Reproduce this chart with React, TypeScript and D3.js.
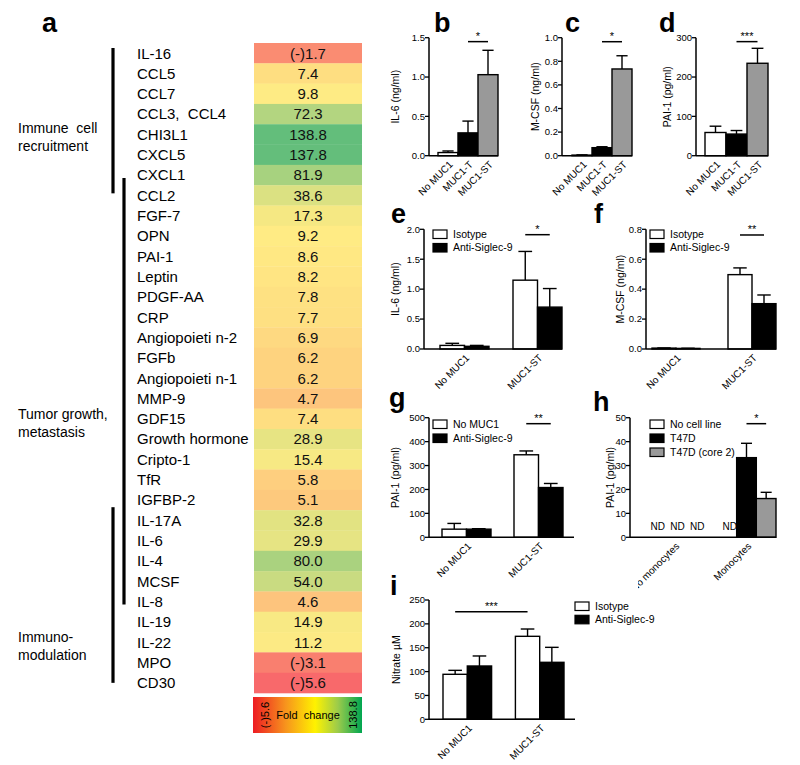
import React from 'react';
import * as d3 from 'd3';

const FONT = '"Liberation Sans", Arial, Helvetica, sans-serif';

// ---------- Panel a data ----------
const genes = ['IL-16', 'CCL5', 'CCL7', 'CCL3,  CCL4', 'CHI3L1', 'CXCL5', 'CXCL1', 'CCL2', 'FGF-7', 'OPN', 'PAI-1', 'Leptin', 'PDGF-AA', 'CRP', 'Angiopoieti n-2', 'FGFb', 'Angiopoieti n-1', 'MMP-9', 'GDF15', 'Growth hormone', 'Cripto-1', 'TfR', 'IGFBP-2', 'IL-17A', 'IL-6', 'IL-4', 'MCSF', 'IL-8', 'IL-19', 'IL-22', 'MPO', 'CD30'];
const foldChange = [-1.7, 7.4, 9.8, 72.3, 138.8, 137.8, 81.9, 38.6, 17.3, 9.2, 8.6, 8.2, 7.8, 7.7, 6.9, 6.2, 6.2, 4.7, 7.4, 28.9, 15.4, 5.8, 5.1, 32.8, 29.9, 80.0, 54.0, 4.6, 14.9, 11.2, -3.1, -5.6];
const groupLabels = [['Immune  cell', 'recruitment'], ['Tumor growth,', 'metastasis'], ['Immuno-', 'modulation']];
const groupBrackets = [[0, 7], [6, 27], [23, 31]];
const colorbarMin = '(-)5.6';
const colorbarMax = '138.8';

// ---------- Panels b-d ----------
const catsBCD = ['No MUC1', 'MUC1-T', 'MUC1-ST'];
const il6B = [0.04, 0.29, 1.03];
const il6BSem = [0.02, 0.15, 0.31];
const mcsfC = [0.005, 0.068, 0.735];
const mcsfCSem = [0.002, 0.008, 0.112];
const pai1D = [59, 55, 235];
const pai1DSem = [16, 9, 38];

// ---------- Panels e-g, i ----------
const catsEFGI = ['No MUC1', 'MUC1-ST'];
const il6EIso = [0.06, 1.15];
const il6EIsoSem = [0.035, 0.48];
const il6EAnti = [0.045, 0.70];
const il6EAntiSem = [0.015, 0.31];
const mcsfFIso = [0.006, 0.497];
const mcsfFIsoSem = [0.001, 0.045];
const mcsfFAnti = [0.004, 0.303];
const mcsfFAntiSem = [0.001, 0.058];
const pai1GNo = [34, 345];
const pai1GNoSem = [24, 16];
const pai1GAnti = [34, 208];
const pai1GAntiSem = [2, 17];
const nitrateIIso = [94.3, 173.9];
const nitrateIIsoSem = [8.3, 15.3];
const nitrateIAnti = [111.7, 119.4];
const nitrateIAntiSem = [21, 31.4];

// ---------- Panel h ----------
const catsH = ['No monocytes', 'Monocytes'];
const pai1HNone: (number | null)[] = [null, null];
const pai1HT47D: (number | null)[] = [null, 33.3];
const pai1HT47DSem: (number | null)[] = [null, 6];
const pai1HCore2: (number | null)[] = [null, 16.2];
const pai1HCore2Sem: (number | null)[] = [null, 2.6];

const WHITE = '#ffffff';
const BLACK = '#000000';
const GREY = '#999999';

type Series = { name: string; fill: string | string[]; values: (number | null)[]; errs: (number | null)[] };

type Cfg = {
  letter: string; lx: number; ly: number;
  axisX: number; y0: number; yTop: number; max: number; step: number; fmt: string;
  range: [number, number]; padInner: number; axisEnd: number;
  categories: string[]; series: Series[];
  yLabel: string; yLabelX: number;
  sig: { a: [number, number]; b: [number, number]; v: number; label: string };
  legend?: { x: number; y: number; pitch: number };
  clipLabelX?: number;
};

const panels: Cfg[] = [
  {
    letter: 'b', lx: 434, ly: 32, axisX: 429, y0: 155.7, yTop: 37.7, max: 1.5, step: 0.5, fmt: '.1f',
    range: [438, 498], padInner: 0, axisEnd: 498, categories: catsBCD,
    series: [{ name: 'IL-6', fill: [WHITE, BLACK, GREY], values: il6B, errs: il6BSem }],
    yLabel: 'IL-6 (ng/ml)', yLabelX: 395, sig: { a: [1, 0], b: [2, 0], v: 1.45, label: '*' },
  },
  {
    letter: 'c', lx: 565, ly: 32, axisX: 562, y0: 155.7, yTop: 37.7, max: 1.0, step: 0.2, fmt: '.1f',
    range: [572, 632], padInner: 0, axisEnd: 632, categories: catsBCD,
    series: [{ name: 'M-CSF', fill: [WHITE, BLACK, GREY], values: mcsfC, errs: mcsfCSem }],
    yLabel: 'M-CSF (ng/ml)', yLabelX: 535, sig: { a: [1, 0], b: [2, 0], v: 0.966, label: '*' },
  },
  {
    letter: 'd', lx: 659, ly: 32, axisX: 696, y0: 155.7, yTop: 37.7, max: 300, step: 100, fmt: 'd',
    range: [705, 768], padInner: 0, axisEnd: 768, categories: catsBCD,
    series: [{ name: 'PAI-1', fill: [WHITE, BLACK, GREY], values: pai1D, errs: pai1DSem }],
    yLabel: 'PAI-1 (pg/ml)', yLabelX: 667, sig: { a: [1, 0], b: [2, 0], v: 290, label: '***' },
  },
  {
    letter: 'e', lx: 391, ly: 223, axisX: 424, y0: 349, yTop: 229.3, max: 2.0, step: 0.5, fmt: '.1f',
    range: [440, 562], padInner: 24 / 73, axisEnd: 562, categories: catsEFGI,
    series: [
      { name: 'Isotype', fill: WHITE, values: il6EIso, errs: il6EIsoSem },
      { name: 'Anti-Siglec-9', fill: BLACK, values: il6EAnti, errs: il6EAntiSem },
    ],
    yLabel: 'IL-6 (ng/ml)', yLabelX: 395, sig: { a: [1, 0], b: [1, 1], v: 1.91, label: '*' },
    legend: { x: 433, y: 234, pitch: 13.5 },
  },
  {
    letter: 'f', lx: 594, ly: 223, axisX: 646, y0: 349, yTop: 229.3, max: 0.8, step: 0.2, fmt: '.1f',
    range: [652, 776], padInner: 28 / 76, axisEnd: 776, categories: catsEFGI,
    series: [
      { name: 'Isotype', fill: WHITE, values: mcsfFIso, errs: mcsfFIsoSem },
      { name: 'Anti-Siglec-9', fill: BLACK, values: mcsfFAnti, errs: mcsfFAntiSem },
    ],
    yLabel: 'M-CSF (ng/ml)', yLabelX: 620, sig: { a: [1, 0], b: [1, 1], v: 0.762, label: '**' },
    legend: { x: 650, y: 234, pitch: 13.5 },
  },
  {
    letter: 'g', lx: 389, ly: 407, axisX: 429, y0: 537.3, yTop: 417.7, max: 500, step: 100, fmt: 'd',
    range: [442, 563], padInner: 23 / 72, axisEnd: 574, categories: catsEFGI,
    series: [
      { name: 'No MUC1', fill: WHITE, values: pai1GNo, errs: pai1GNoSem },
      { name: 'Anti-Siglec-9', fill: BLACK, values: pai1GAnti, errs: pai1GAntiSem },
    ],
    yLabel: 'PAI-1 (pg/ml)', yLabelX: 395, sig: { a: [1, 0], b: [1, 1], v: 475, label: '**' },
    legend: { x: 433, y: 424, pitch: 14 },
  },
  {
    letter: 'h', lx: 593, ly: 411, axisX: 630, y0: 537.3, yTop: 417.7, max: 50, step: 10, fmt: 'd',
    range: [645, 776], padInner: 0.18, axisEnd: 776, categories: catsH,
    series: [
      { name: 'No cell line', fill: WHITE, values: pai1HNone, errs: pai1HNone },
      { name: 'T47D', fill: BLACK, values: pai1HT47D, errs: pai1HT47DSem },
      { name: 'T47D (core 2)', fill: GREY, values: pai1HCore2, errs: pai1HCore2Sem },
    ],
    yLabel: 'PAI-1 (pg/ml)', yLabelX: 610, sig: { a: [1, 1], b: [1, 2], v: 47.5, label: '*' },
    legend: { x: 650, y: 424, pitch: 14 },
    clipLabelX: 638,
  },
  {
    letter: 'i', lx: 390, ly: 595, axisX: 429, y0: 719.3, yTop: 600, max: 250, step: 50, fmt: 'd',
    range: [443, 564], padInner: 24 / 73, axisEnd: 575, categories: catsEFGI,
    series: [
      { name: 'Isotype', fill: WHITE, values: nitrateIIso, errs: nitrateIIsoSem },
      { name: 'Anti-Siglec-9', fill: BLACK, values: nitrateIAnti, errs: nitrateIAntiSem },
    ],
    yLabel: 'Nitrate \u00b5M', yLabelX: 396, sig: { a: [0, 0], b: [1, 0], v: 225.5, label: '***' },
    legend: { x: 575, y: 606, pitch: 13.3 },
  },
];

function fillOf(s: Series, ci: number) {
  return Array.isArray(s.fill) ? s.fill[ci] : s.fill;
}

function BarPanel({ cfg, idx }: { cfg: Cfg; idx: number }) {
  const y = d3.scaleLinear().domain([0, cfg.max]).range([cfg.y0, cfg.yTop]);
  const x0 = d3.scaleBand<string>().domain(cfg.categories).range(cfg.range).paddingInner(cfg.padInner).paddingOuter(0);
  const x1 = d3.scaleBand<string>().domain(cfg.series.map(s => s.name)).range([0, x0.bandwidth()]).padding(0);
  const ticks = d3.range(0, cfg.max + cfg.step / 2, cfg.step);
  const fmt = d3.format(cfg.fmt);
  const bw = x1.bandwidth();
  const cx = (ci: number, si: number) => (x0(cfg.categories[ci]) as number) + (x1(cfg.series[si].name) as number) + bw / 2;
  const sigY = y(cfg.sig.v);
  const sa = cx(cfg.sig.a[0], cfg.sig.a[1]);
  const sb = cx(cfg.sig.b[0], cfg.sig.b[1]);
  const yMid = (cfg.y0 + cfg.yTop) / 2;
  const clipId = `clip-${idx}`;
  return (
    <g fontFamily={FONT}>
      <text x={cfg.lx} y={cfg.ly} fontSize={27} fontWeight="bold">{cfg.letter}</text>
      {cfg.categories.map((c, ci) =>
        cfg.series.map((s, si) => {
          const v = s.values[ci];
          const bx = (x0(c) as number) + (x1(s.name) as number);
          if (v === null || v === undefined) {
            return (
              <text key={`${ci}-${si}`} x={bx + bw / 2 + 3} y={cfg.y0 - 7} fontSize={10} textAnchor="middle">ND</text>
            );
          }
          const e = s.errs[ci] ?? 0;
          const top = y(v);
          const et = y(v + e);
          const h = Math.max(cfg.y0 - top, 0.6);
          return (
            <g key={`${ci}-${si}`}>
              {e > 0 && (
                <g stroke={BLACK} strokeWidth={1.4}>
                  <line x1={bx + bw / 2} x2={bx + bw / 2} y1={top} y2={et} />
                  <line x1={bx + bw / 2 - bw * 0.28} x2={bx + bw / 2 + bw * 0.28} y1={et} y2={et} />
                </g>
              )}
              <rect x={bx} y={cfg.y0 - h} width={bw} height={h} fill={fillOf(s, ci)} stroke={BLACK} strokeWidth={1.4} />
            </g>
          );
        })
      )}
      <line x1={cfg.axisX} x2={cfg.axisX} y1={cfg.y0} y2={cfg.yTop} stroke={BLACK} strokeWidth={1.5} />
      {ticks.map(t => (
        <g key={t}>
          <line x1={cfg.axisX - 4} x2={cfg.axisX} y1={y(t)} y2={y(t)} stroke={BLACK} strokeWidth={1.3} />
          <text x={cfg.axisX - 4} y={y(t)} dy="0.35em" fontSize={9.5} textAnchor="end">{fmt(t)}</text>
        </g>
      ))}
      <line x1={cfg.axisX} x2={cfg.axisEnd} y1={cfg.y0} y2={cfg.y0} stroke={BLACK} strokeWidth={1.5} />
      {cfg.clipLabelX !== undefined && (
        <defs>
          <clipPath id={clipId}>
            <rect x={cfg.clipLabelX} y={cfg.y0} width={800} height={100} />
          </clipPath>
        </defs>
      )}
      <g clipPath={cfg.clipLabelX !== undefined ? `url(#${clipId})` : undefined}>
        {cfg.categories.map(c => {
          const gx = (x0(c) as number) + x0.bandwidth() / 2;
          return (
            <text key={c} transform={`translate(${gx + 3},${cfg.y0 + 7}) rotate(-45)`} fontSize={10} textAnchor="end" dy="0.35em">{c}</text>
          );
        })}
      </g>
      <text transform={`translate(${cfg.yLabelX + 3.5},${yMid}) rotate(-90)`} fontSize={10.5} textAnchor="middle">{cfg.yLabel}</text>
      <line x1={sa} x2={sb} y1={sigY} y2={sigY} stroke={BLACK} strokeWidth={1.5} />
      <text x={(sa + sb) / 2} y={sigY - 2} fontSize={11} textAnchor="middle">{cfg.sig.label}</text>
      {cfg.legend && cfg.series.map((s, si) => {
        const ly = cfg.legend!.y + si * cfg.legend!.pitch;
        return (
          <g key={s.name}>
            <rect x={cfg.legend!.x} y={ly - 4} width={14} height={8.5} fill={fillOf(s, 0)} stroke={BLACK} strokeWidth={1.2} />
            <text x={cfg.legend!.x + 20} y={ly} dy="0.35em" fontSize={10.5}>{s.name}</text>
          </g>
        );
      })}
    </g>
  );
}

function Heatmap() {
  const yb = d3.scaleBand<string>().domain(genes).range([43, 693]).padding(0);
  const color = d3.scaleLinear<string>().domain([-5.6, 8.9, 138.8]).range(['#F8696B', '#FFEB84', '#63BE7B']);
  const cellX0 = 254;
  const cellX1 = 362;
  const rowC = (i: number) => (yb(genes[i]) as number) + yb.bandwidth() / 2;
  const bracketLayout = [
    { x: 113, y1: (yb(genes[groupBrackets[0][0]]) as number) + 5, y2: rowC(groupBrackets[0][1]) - 2 },
    { x: 124, y1: rowC(groupBrackets[1][0]) + 3, y2: rowC(groupBrackets[1][1]) + 3 },
    { x: 113, y1: (yb(genes[groupBrackets[2][0]]) as number) - 3, y2: rowC(groupBrackets[2][1]) },
  ];
  const groupLabelY = [133, 419, 642];
  const fmtVal = (v: number) => (v < 0 ? `(-)${Math.abs(v).toFixed(1)}` : v.toFixed(1));
  return (
    <g fontFamily={FONT}>
      <text x={42} y={32} fontSize={27} fontWeight="bold">a</text>
      {genes.map((g, i) => (
        <g key={g}>
          <rect x={cellX0} y={yb(g)} width={cellX1 - cellX0} height={yb.bandwidth() + 0.3} fill={color(foldChange[i])} />
          <text x={137} y={rowC(i)} dy="0.36em" fontSize={15} style={{ whiteSpace: 'pre' }}>{g}</text>
          <text x={(cellX0 + cellX1) / 2} y={rowC(i)} dy="0.36em" fontSize={15} textAnchor="middle" fill="#111">{fmtVal(foldChange[i])}</text>
        </g>
      ))}
      {bracketLayout.map((b, i) => (
        <line key={i} x1={b.x} x2={b.x} y1={b.y1} y2={b.y2} stroke={BLACK} strokeWidth={3.2} />
      ))}
      {groupLabels.map((lines, i) => (
        <g key={i}>
          {lines.map((t, j) => (
            <text key={j} x={18} y={groupLabelY[i] + j * 18} fontSize={14} style={{ whiteSpace: 'pre' }}>{t}</text>
          ))}
        </g>
      ))}
      <defs>
        <linearGradient id="fcgrad" x1="0" x2="1" y1="0" y2="0">
          <stop offset="0" stopColor="#ED1C24" />
          <stop offset="0.3" stopColor="#F7941D" />
          <stop offset="0.57" stopColor="#FFF200" />
          <stop offset="0.78" stopColor="#9BCB4B" />
          <stop offset="1" stopColor="#00A651" />
        </linearGradient>
      </defs>
      <rect x={253} y={697} width={109} height={36} fill="url(#fcgrad)" />
      <text x={308} y={715} dy="0.35em" fontSize={11} textAnchor="middle" style={{ whiteSpace: 'pre' }}>Fold  change</text>
      <text transform={`translate(${265 + 4},715) rotate(-90)`} fontSize={11} textAnchor="middle">{colorbarMin}</text>
      <text transform={`translate(${353 + 4},715) rotate(-90)`} fontSize={11} textAnchor="middle">{colorbarMax}</text>
    </g>
  );
}

export default function App() {
  return (
    <svg width={800} height={765} style={{ position: 'absolute', left: 0, top: 0, background: '#fff' }}>
      <rect width={800} height={765} fill="#fff" />
      <Heatmap />
      {panels.map((p, i) => (
        <BarPanel key={p.letter} cfg={p} idx={i} />
      ))}
    </svg>
  );
}
